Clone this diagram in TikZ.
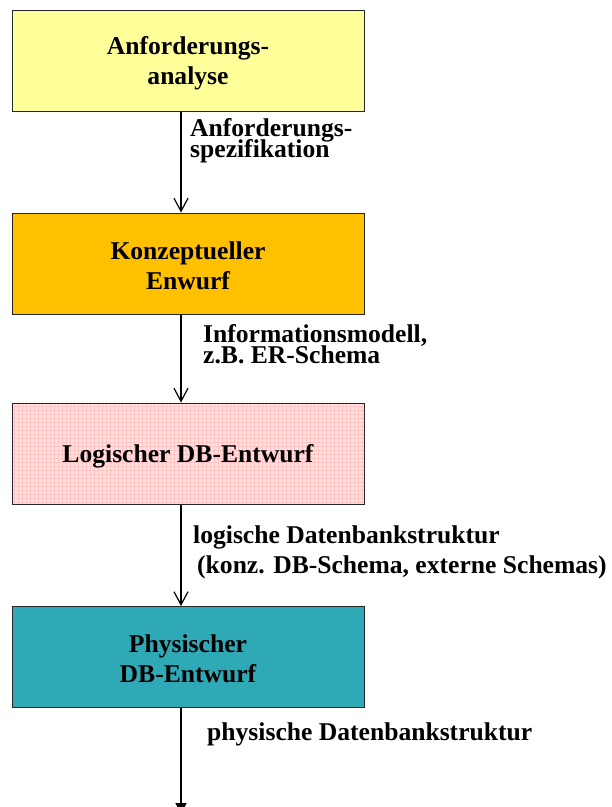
\documentclass[tikz,border=0pt]{standalone}
\usepackage{fontspec}
\setmainfont{Liberation Serif}
\usetikzlibrary{arrows.meta}
\definecolor{boxyellow}{HTML}{FFFF99}
\definecolor{boxorange}{HTML}{FFC000}
\definecolor{boxpink}{HTML}{FFE4E4}
\definecolor{gridpink}{HTML}{FFC4C4}
\definecolor{boxteal}{HTML}{2EA9B5}
\newcommand{\myboxfont}{\fontsize{25.6}{30}\selectfont\bfseries\setlength{\lineskiplimit}{-30pt}}
\newcommand{\mylabelfont}{\fontsize{25.6}{21}\selectfont\bfseries\setlength{\lineskiplimit}{-30pt}}
\newcommand{\mywidelabelfont}{\fontsize{25.6}{30}\selectfont\bfseries\setlength{\lineskiplimit}{-30pt}}
\newcommand{\bs}{\rule[-3pt]{0pt}{27pt}}
\begin{document}
\begin{tikzpicture}[x=1pt,y=-1pt,
  stagebox/.style={draw=black!85, line width=1pt, minimum width=352pt, minimum height=101pt,
    inner sep=0pt, align=center, font=\myboxfont},
  flowlabel/.style={anchor=base west, inner sep=0pt, align=left, font=\mylabelfont},
  flowarrow/.style={draw=black, line width=1.2pt, -{Straight Barb[length=13pt,width=14pt,line width=1.2pt]}},
  gridfill/.style={path picture={\draw[gridpink, line width=0.4pt, step=4pt]
    (path picture bounding box.south west) grid (path picture bounding box.north east);}}]
\useasboundingbox (0,0) rectangle (612,807);
\clip (0,0) rectangle (612,807);
\node[stagebox, fill=boxyellow] (b1) at (188,60.5) {\bs Anforderungs-\\\bs analyse};
\node[stagebox, fill=boxorange] (b2) at (188,263.5) {\bs Konzeptueller\\\bs Enwurf};
\node[stagebox, fill=boxpink, gridfill] (b3) at (188,453.5) {\bs Logischer DB-Entwurf};
\node[stagebox, fill=boxteal] (b4) at (188,657) {\bs Physischer\\\bs DB-Entwurf};
\coordinate (end) at (181,814);
\draw[flowarrow] ([xshift=-7pt]b1.south) -- ([xshift=-7pt]b2.north);
\draw[flowarrow] ([xshift=-7pt]b2.south) -- ([xshift=-7pt]b3.north);
\draw[flowarrow] ([xshift=-7pt]b3.south) -- ([xshift=-7pt]b4.north);
\draw[line width=1.2pt, -{Triangle[length=11pt,width=11pt]}] ([xshift=-7pt]b4.south) -- (end);
\node[flowlabel] (l1) at (190,157) {Anforderungs-\\spezifikation};
\node[flowlabel] (l2) at (203,363) {Informationsmodell,\\z.B. ER-Schema};
\node[flowlabel, font=\mywidelabelfont] (l3) at (193,573)
  {logische Datenbankstruktur\\\hspace*{4pt}(konz. DB-Schema, externe Schemas)};
\node[flowlabel] (l4) at (207,740) {physische Datenbankstruktur};
\end{tikzpicture}
\end{document}
